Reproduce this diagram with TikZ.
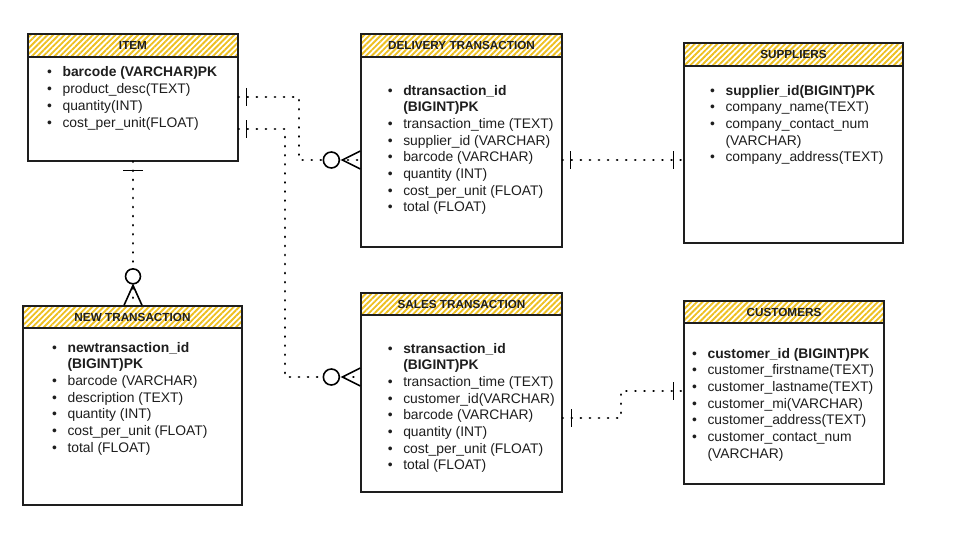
\documentclass[tikz,border=0pt]{standalone}
\usepackage{fontspec}
\setmainfont{Liberation Sans}
\usetikzlibrary{fit,patterns.meta}

\definecolor{hatchyellow}{RGB}{238,192,32}
\definecolor{inkgray}{RGB}{30,30,30}

\tikzset{
  entity/.style={draw=inkgray, line width=1pt, inner sep=0pt, fill=white},
  entityhead/.style={draw=inkgray, line width=1pt, inner sep=0pt,
    pattern={Lines[angle=45,distance=3pt,line width=1.4pt]}, pattern color=hatchyellow},
  headtitle/.style={font=\bfseries\fontsize{8.8}{10}\selectfont, inner sep=0pt, text=inkgray},
  fieldlist/.style={font=\fontsize{10.4}{12.5}\selectfont, inner sep=0pt, anchor=base west, text=inkgray},
  rel/.style={line width=2pt, dash pattern=on 0.1pt off 6.7pt, line cap=round},
  endmark/.style={line width=1.2pt, draw=black},
}

\begin{document}
\begin{tikzpicture}[x=0.75pt,y=-0.75pt]
  \fill[white] (0,0) rectangle (956,535);
  \useasboundingbox (0,0) rectangle (956,535);

  % Drawing entity ITEM
  \node[entity, fit={(28,34) (238,161)}] (item) {};
  \node[entityhead, fit={(28,34) (238,57)}] (itemhead) {};
  \node[headtitle] (itemtitle) at (itemhead.center) {ITEM};
  \node[fieldlist] (itemfields) at (46.9,77) {\begin{tabular}[t]{@{}l@{\hspace{7.9pt}}l@{}}
    \textbullet & \textbf{barcode (VARCHAR)PK}\\
    \textbullet & product\_desc(TEXT)\\
    \textbullet & quantity(INT)\\
    \textbullet & cost\_per\_unit(FLOAT)
  \end{tabular}};

  % Drawing entity DELIVERY TRANSACTION
  \node[entity, fit={(361,34) (562,247)}] (delivery) {};
  \node[entityhead, fit={(361,34) (562,57)}] (deliveryhead) {};
  \node[headtitle] (deliverytitle) at (deliveryhead.center) {DELIVERY TRANSACTION};
  \node[fieldlist] (deliveryfields) at (387.6,95) {\begin{tabular}[t]{@{}l@{\hspace{7.9pt}}l@{}}
    \textbullet & \textbf{dtransaction\_id}\\
                & \textbf{(BIGINT)PK}\\
    \textbullet & transaction\_time (TEXT)\\
    \textbullet & supplier\_id (VARCHAR)\\
    \textbullet & barcode (VARCHAR)\\
    \textbullet & quantity (INT)\\
    \textbullet & cost\_per\_unit (FLOAT)\\
    \textbullet & total (FLOAT)
  \end{tabular}};

  % Drawing entity SUPPLIERS
  \node[entity, fit={(684,43) (903,243)}] (suppliers) {};
  \node[entityhead, fit={(684,43) (903,66)}] (suppliershead) {};
  \node[headtitle] (supplierstitle) at (suppliershead.center) {SUPPLIERS};
  \node[fieldlist] (suppliersfields) at (709.9,95) {\begin{tabular}[t]{@{}l@{\hspace{7.9pt}}l@{}}
    \textbullet & \textbf{supplier\_id(BIGINT)PK}\\
    \textbullet & company\_name(TEXT)\\
    \textbullet & company\_contact\_num\\
                & (VARCHAR)\\
    \textbullet & company\_address(TEXT)
  \end{tabular}};

  % Drawing entity NEW TRANSACTION
  \node[entity, fit={(23,306) (242,505)}] (newtrans) {};
  \node[entityhead, fit={(23,306) (242,328)}] (newtranshead) {};
  \node[headtitle] (newtranstitle) at (newtranshead.center) {NEW TRANSACTION};
  \node[fieldlist] (newtransfields) at (51.9,352) {\begin{tabular}[t]{@{}l@{\hspace{7.9pt}}l@{}}
    \textbullet & \textbf{newtransaction\_id}\\
                & \textbf{(BIGINT)PK}\\
    \textbullet & barcode (VARCHAR)\\
    \textbullet & description (TEXT)\\
    \textbullet & quantity (INT)\\
    \textbullet & cost\_per\_unit (FLOAT)\\
    \textbullet & total (FLOAT)
  \end{tabular}};

  % Drawing entity SALES TRANSACTION
  \node[entity, fit={(361,293) (562,492)}] (sales) {};
  \node[entityhead, fit={(361,293) (562,315)}] (saleshead) {};
  \node[headtitle] (salestitle) at (saleshead.center) {SALES TRANSACTION};
  \node[fieldlist] (salesfields) at (387.6,353) {\begin{tabular}[t]{@{}l@{\hspace{7.9pt}}l@{}}
    \textbullet & \textbf{stransaction\_id}\\
                & \textbf{(BIGINT)PK}\\
    \textbullet & transaction\_time (TEXT)\\
    \textbullet & customer\_id(VARCHAR)\\
    \textbullet & barcode (VARCHAR)\\
    \textbullet & quantity (INT)\\
    \textbullet & cost\_per\_unit (FLOAT)\\
    \textbullet & total (FLOAT)
  \end{tabular}};

  % Drawing entity CUSTOMERS
  \node[entity, fit={(684,301) (884,484)}] (customers) {};
  \node[entityhead, fit={(684,301) (884,323)}] (customershead) {};
  \node[headtitle] (customerstitle) at (customershead.center) {CUSTOMERS};
  \node[fieldlist] (customersfields) at (691.9,358) {\begin{tabular}[t]{@{}l@{\hspace{7.9pt}}l@{}}
    \textbullet & \textbf{customer\_id (BIGINT)PK}\\
    \textbullet & customer\_firstname(TEXT)\\
    \textbullet & customer\_lastname(TEXT)\\
    \textbullet & customer\_mi(VARCHAR)\\
    \textbullet & customer\_address(TEXT)\\
    \textbullet & customer\_contact\_num\\
                & (VARCHAR)
  \end{tabular}};

  % Drawing relation ITEM - DELIVERY TRANSACTION
  \draw[rel] (item.east |- 0,97) -- (299,97) |- (delivery.west |- 0,160);
  \draw[endmark] (item.east |- 0,97) ++(8,-9) -- ++(0,18);
  \draw[endmark, fill=white] (delivery.west |- 0,160) ++(-29,0) circle[radius=6pt];
  \draw[endmark] (delivery.west |- 0,160) ++(0,-9) -- ++(-18,9) -- ++(18,9);

  % Drawing relation ITEM - SALES TRANSACTION
  \draw[rel] (item.east |- 0,129) -- (285,129) |- (sales.west |- 0,377);
  \draw[endmark] (item.east |- 0,129) ++(8,-9) -- ++(0,18);
  \draw[endmark, fill=white] (sales.west |- 0,377) ++(-29,0) circle[radius=6pt];
  \draw[endmark] (sales.west |- 0,377) ++(0,-9) -- ++(-18,9) -- ++(18,9);

  % Drawing relation ITEM - NEW TRANSACTION
  \draw[rel] (item.south) -- (item.south |- newtrans.north);
  \draw[endmark] (item.south) ++(-10,9) -- ++(20,0);
  \draw[endmark, fill=white] (item.south |- newtrans.north) ++(0,-29) circle[radius=5.6pt];
  \draw[endmark] (item.south |- newtrans.north) ++(-9,0) -- ++(9,-20) -- ++(9,20);

  % Drawing relation DELIVERY TRANSACTION - SUPPLIERS
  \draw[rel] (delivery.east |- 0,160) -- (suppliers.west |- 0,160);
  \draw[endmark] (delivery.east |- 0,160) ++(8,-9) -- ++(0,18);
  \draw[endmark] (suppliers.west |- 0,160) ++(-10,-9) -- ++(0,18);

  % Drawing relation SALES TRANSACTION - CUSTOMERS
  \draw[rel] (sales.east |- 0,418) -- (621,418) |- (customers.west |- 0,391);
  \draw[endmark] (sales.east |- 0,418) ++(9,-9) -- ++(0,18);
  \draw[endmark] (customers.west |- 0,391) ++(-10,-9) -- ++(0,18);
\end{tikzpicture}
\end{document}
